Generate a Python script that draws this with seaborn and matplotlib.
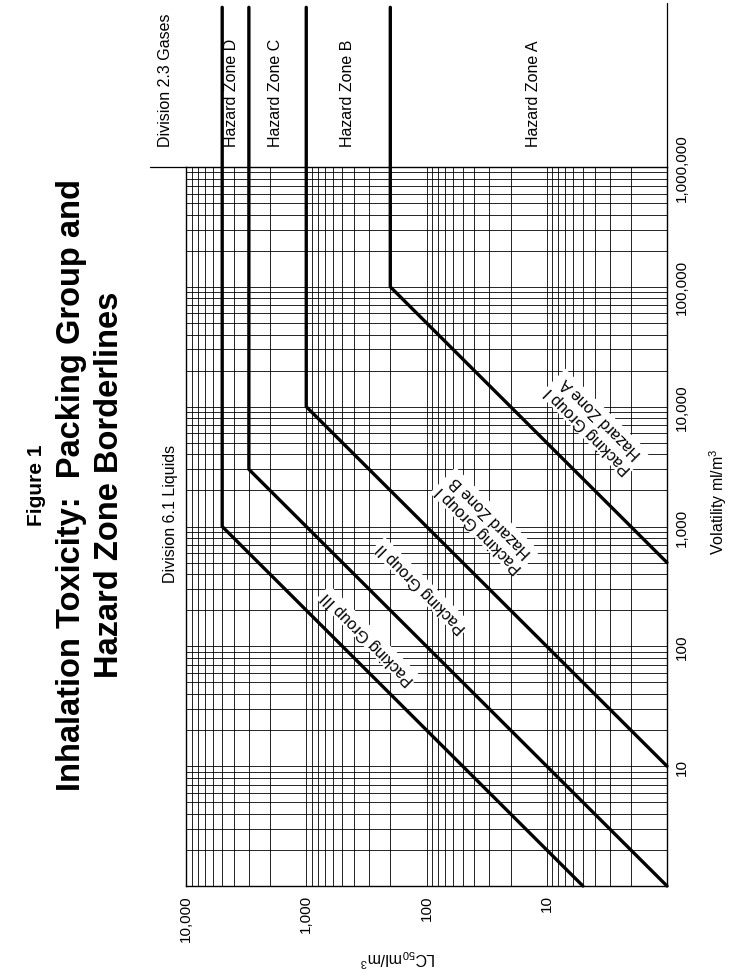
import numpy as np
import pandas as pd
import seaborn as sns
import matplotlib.pyplot as plt
from matplotlib.ticker import FixedLocator, LogLocator, NullFormatter

# ── data: borderlines  V >= ratio * LC50  and  LC50 <= limit ──────────
zones = ["A", "B", "C", "D"]
lc50_limit = [200, 1000, 3000, 5000]
vol_ratio = [500, 10, 1, 0.2]

line_labels = ["Packing Group I\nHazard Zone A", "Packing Group I\nHazard Zone B",
               "Packing Group II", "Packing Group III"]
zone_labels = ["Hazard Zone A", "Hazard Zone B", "Hazard Zone C", "Hazard Zone D"]

lc50_ticks = [10, 100, 1000, 10000]
lc50_ticklabels = ["10", "100", "1,000", "10,000"]
vol_ticks = [10, 100, 1000, 10000, 100000, 1000000]
vol_ticklabels = ["10", "100", "1,000", "10,000", "100,000", "1,000,000"]

# ── build polylines ───────────────────────────────────────
V_TOP = 2.15e7   # caps run past the plot into the zone-label strip
rows = []
for z, lim, r in zip(zones, lc50_limit, vol_ratio):
    lc0 = max(1.0, 1.0 / r)
    pts = [(lc0, r * lc0), (lim, r * lim), (lim, V_TOP)]
    for lc, v in pts:
        rows.append({"zone": z, "lc50": lc, "vol": v})
df = pd.DataFrame(rows)

# ── figure ───────────────────────────────────────────────
sns.set_style("white")
plt.rcParams["font.family"] = ["Liberation Sans", "DejaVu Sans"]
plt.rcParams["mathtext.fontset"] = "custom"
plt.rcParams["mathtext.rm"] = "Liberation Sans"
plt.rcParams["text.color"] = "black"
plt.rcParams["xtick.color"] = "black"
plt.rcParams["ytick.color"] = "black"

W, H = 731, 979
fig = plt.figure(figsize=(W / 100, H / 100), dpi=100)
L, R, T, B = 186, 667, 168, 887
ax = fig.add_axes([L / W, 1 - B / H, (R - L) / W, (B - T) / H])

ax.set_xscale("log")
ax.set_yscale("log")

sns.lineplot(data=df, x="lc50", y="vol", units="zone", estimator=None, sort=False,
             color="black", linewidth=2.4, clip_on=False, legend=False, ax=ax)

ax.set_xlim(10000, 1)
ax.set_ylim(1, 1e6)

# log graph-paper grid
for axis in (ax.xaxis, ax.yaxis):
    axis.set_minor_locator(LogLocator(base=10, subs=np.arange(2, 10)))
    axis.set_minor_formatter(NullFormatter())
ax.xaxis.set_major_locator(FixedLocator(lc50_ticks))
ax.set_xticklabels(lc50_ticklabels, rotation=90, fontsize=11)
ax.yaxis.tick_right()
ax.yaxis.set_major_locator(FixedLocator(vol_ticks))
ax.set_yticklabels(vol_ticklabels, rotation=90, va="center", fontsize=11)
ax.tick_params(which="both", length=0, pad=6, labelcolor="black")
ax.grid(True, which="both", color="black", linewidth=0.6)
ax.set_xlabel("")
ax.set_ylabel("")
for s in ax.spines.values():
    s.set_color("black")
    s.set_linewidth(1.0)

# frame extensions beyond plot
ax.plot([1e4, 10 ** 4.3], [1e6, 1e6], color="black", lw=0.9, clip_on=False)
ax.plot([1, 1], [1e6, 10 ** 7.37], color="black", lw=0.9, clip_on=False)

# labels along the borderlines
label_pos = [(4, 7200), (32.7, 1086), (110, 311), (305, 119)]
for (lx, ly), txt in zip(label_pos, line_labels):
    ax.text(lx, ly, txt, rotation=135, rotation_mode="anchor", ha="center", va="center",
            multialignment="center", fontsize=11.5, zorder=5,
            bbox=dict(fc="white", ec="none", pad=1.5))

# zone strip labels
def ftext(px, py, s, **kw):
    fig.text(px / W, 1 - py / H, s, **kw)

strip = [(533, zone_labels[0]), (347, zone_labels[1]), (276, zone_labels[2]),
         (232, zone_labels[3]), (166, "Division 2.3 Gases")]
for px, s in strip:
    ftext(px, 147, s, rotation=90, ha="center", va="bottom", fontsize=11.5)
ftext(171, 514, "Division 6.1 Liquids", rotation=90, ha="center", va="center", fontsize=11.5)

ftext(718, 502, r"Volatility ml/m$^3$", rotation=90, ha="center", va="center", fontsize=11.5)
ftext(398, 958, r"LC$_{50}$ml/m$^3$", rotation=180, ha="center", va="center", fontsize=11.5)

# title
ftext(37, 485, "Figure 1", rotation=90, ha="center", va="center", fontsize=15,
      fontweight="bold")
ftext(72, 485, "Inhalation Toxicity:  Packing Group and", rotation=90, ha="center",
      va="center", fontsize=23.5, fontweight="bold")
ftext(110, 485, "Hazard Zone Borderlines", rotation=90, ha="center", va="center",
      fontsize=23.5, fontweight="bold")

fig.savefig("out.png", dpi=100)
